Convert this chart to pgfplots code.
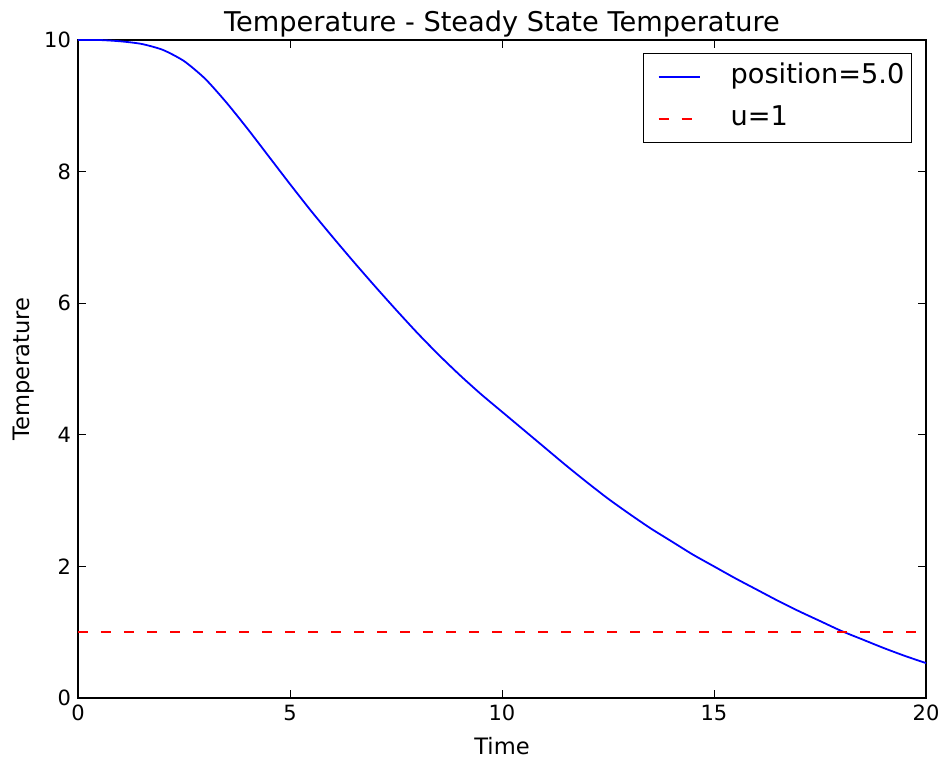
\documentclass[border=0pt]{standalone}
\usepackage{fontspec}
\setmainfont{DejaVu Sans}
\usepackage{pgfplots}
\pgfplotsset{compat=1.18}

\begin{document}
\begin{tikzpicture}
\begin{axis}[
    name=ax,
    scale only axis, width=424pt, height=329pt,
    xmin=0, xmax=20, ymin=0, ymax=10,
    xtick={0,5,10,15,20}, ytick={0,2,4,6,8,10},
    tick align=inside, major tick length=4pt,
    tick style={black, line width=0.5pt},
    axis line style={line width=0.6pt},
    /pgf/number format/assume math mode=true,
    ticklabel style={font=\fontsize{10.5}{12}\selectfont},
    xlabel={Time}, ylabel={Temperature},
    label style={font=\fontsize{11.3}{13}\selectfont},
    xlabel style={yshift=-1.5pt},
    ylabel style={yshift=-2pt},
    title={Temperature - Steady State Temperature},
    title style={font=\fontsize{13.6}{15}\selectfont, at={(0.5,1)}, anchor=base, yshift=-2pt},
    legend style={at={(1,1)}, anchor=north east, xshift=-7pt, yshift=-6.5pt,
        draw=black, line width=0.6pt, font=\fontsize{13.6}{16}\selectfont,
        inner xsep=3.5pt, inner ysep=5.1pt, row sep=7.8pt,
        nodes={inner sep=0pt, text height=10pt, text depth=3.2pt}},
    legend cell align=left,
    legend image code/.code={\draw[#1] (0pt,0pt) -- (20.5pt,0pt);
        \path[draw=none, fill=none] (-4pt,0pt) (36pt,0pt);},
]
\addplot[blue, line width=0.9pt, smooth, tension=0.4] coordinates {
(0,10) (0.5,10) (1,9.98) (1.5,9.94) (2,9.85) (2.5,9.68) (3,9.41) (3.5,9.05)
(4,8.65) (4.5,8.23) (5,7.81) (5.5,7.40) (6,7.01) (6.5,6.63) (7,6.26)
(7.5,5.90) (8,5.55) (8.5,5.22) (9,4.91) (9.5,4.62) (10,4.35) (10.5,4.08)
(11,3.81) (11.5,3.54) (12,3.28) (12.5,3.03) (13,2.80) (13.5,2.58) (14,2.38)
(14.5,2.18) (15,2.00) (15.5,1.82) (16,1.65) (16.5,1.48) (17,1.32)
(17.5,1.17) (18,1.02) (18.5,0.89) (19,0.76) (19.5,0.64) (20,0.53)
};
\addlegendentry{position=5.0}
\addplot[red, line width=0.9pt, dash pattern=on 5pt off 6.5pt] coordinates {(0,1) (20,1)};
\addlegendentry{u=1}
\end{axis}
\pgfresetboundingbox
\path ([xshift=-39pt,yshift=-30.5pt]ax.south west) rectangle ([xshift=8.5pt,yshift=20pt]ax.north east);
\end{tikzpicture}
\end{document}
